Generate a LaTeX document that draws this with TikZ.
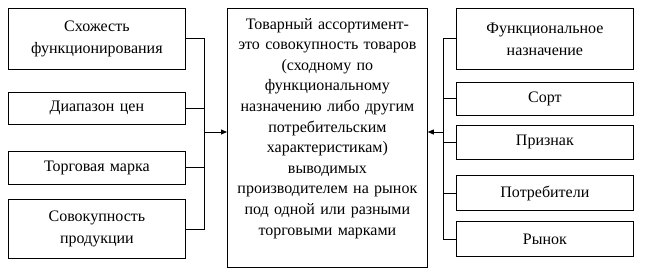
\documentclass[tikz,border=0pt]{standalone}
\usepackage{fontspec}
\setmainfont{Liberation Serif}
\usetikzlibrary{arrows.meta, positioning}
\tikzset{
    kasten/.style={
        rectangle, draw=black, line width=0.8pt,
        minimum width=177pt,
        text width=172pt,
        align=center,
        inner sep=2pt,
        font=\fontsize{16}{22}\selectfont
    },
    linie/.style={line width=0.8pt},
    pfeil/.style={-{Triangle[length=6pt,width=5pt]}, line width=0.8pt}
}
\begin{document}
\begin{tikzpicture}[x=1pt, y=1pt]

    \useasboundingbox (0,0) rectangle (645,270);

    % linke Spalte
    \node[kasten, minimum height=61pt, anchor=north west] (schozh) at (8,262)
        {Схожесть\\функционирования};
    \node[kasten, minimum height=32pt, below=22pt of schozh] (diapazon)
        {Диапазон цен};
    \node[kasten, minimum height=33pt, below=26pt of diapazon] (marka)
        {Торговая марка};
    \node[kasten, minimum height=59pt, below=15pt of marka] (sovok)
        {Совокупность\\продукции};

    % Mitte
    \node[kasten, minimum width=200pt, text width=196pt, minimum height=259pt,
          anchor=north west, font=\fontsize{16}{20.6}\selectfont] (assort) at (227,262) {
        Товарный ассортимент-\\
        это совокупность товаров\\
        (сходному по\\
        функциональному\\
        назначению либо другим\\
        потребительским\\
        характеристикам)\\
        выводимых\\
        производителем на рынок\\
        под одной или разными\\
        торговыми марками\\[2pt]
        \mbox{}
    };

    % rechte Spalte
    \node[kasten, minimum height=61pt, anchor=north west] (funkc) at (456,262)
        {Функциональное\\назначение};
    \node[kasten, minimum height=33pt, below=12pt of funkc] (sort)
        {Сорт};
    \node[kasten, minimum height=34pt, below=9pt of sort] (priznak)
        {Признак};
    \node[kasten, minimum height=35pt, below=16pt of priznak] (potreb)
        {Потребители};
    \node[kasten, minimum height=35pt, below=10pt of potreb] (rynok)
        {Рынок};

    % Sammelschienen
    \coordinate (busL) at (204,138);
    \coordinate (busR) at (443,138);

    \draw[linie] (schozh.east) -- (schozh.east -| busL)
        -- (sovok.east -| busL) -- (sovok.east);
    \draw[linie] (diapazon.east) -- (diapazon.east -| busL);
    \draw[linie] (marka.east)    -- (marka.east -| busL);
    \draw[pfeil] (busL) -- (busL -| assort.west);

    \draw[linie] (funkc.west) -- (funkc.west -| busR)
        -- (rynok.west -| busR) -- (rynok.west);
    \draw[linie] (sort.west)    -- (sort.west -| busR);
    \draw[linie] (priznak.west) -- (priznak.west -| busR);
    \draw[linie] (potreb.west)  -- (potreb.west -| busR);
    \draw[pfeil] (busR) -- (busR -| assort.east);

\end{tikzpicture}
\end{document}
